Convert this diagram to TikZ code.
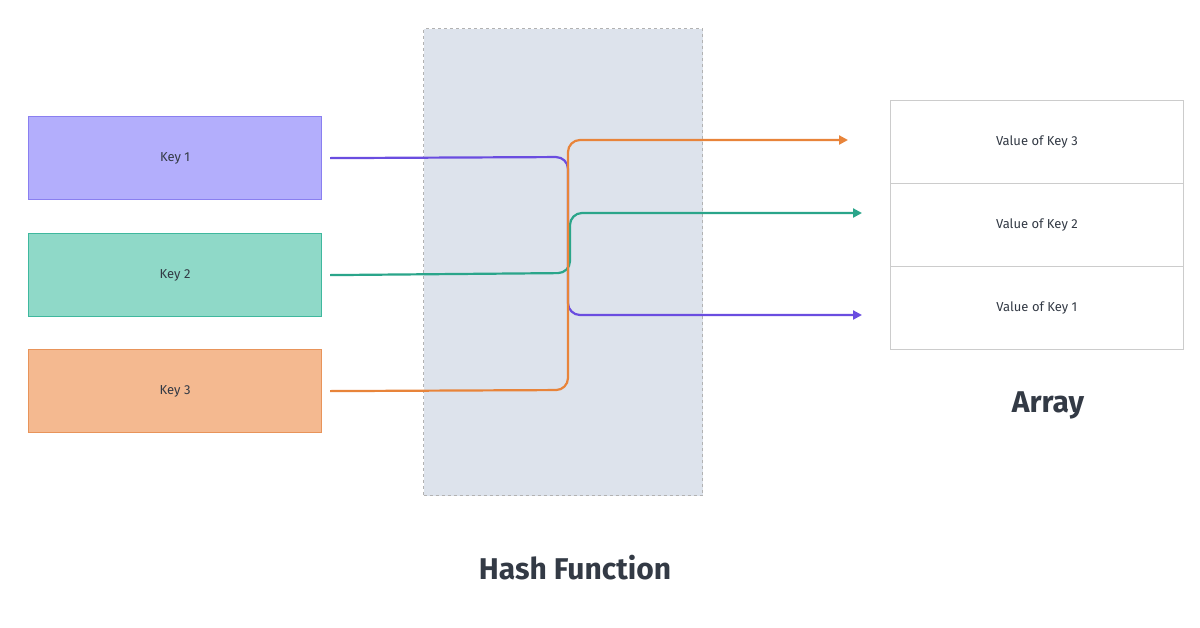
\documentclass[tikz,border=0pt]{standalone}
\usepackage{fontspec}
\setmainfont{Fira Sans}
\usetikzlibrary{arrows.meta}
\definecolor{txt}{HTML}{333A45}
\definecolor{hashbg}{HTML}{DDE3EC}
\definecolor{purp}{HTML}{6A4DE0}
\definecolor{grn}{HTML}{2AA58A}
\definecolor{org}{HTML}{E8843A}
\definecolor{k1f}{HTML}{B3AEFC}
\definecolor{k1d}{HTML}{8A7FF0}
\definecolor{k2f}{HTML}{8FD9C8}
\definecolor{k2d}{HTML}{3FB89E}
\definecolor{k3f}{HTML}{F4B990}
\definecolor{k3d}{HTML}{E8945A}
\begin{document}
\begin{tikzpicture}[x=1pt,y=-1pt,
  key/.style={draw, line width=1.2pt, minimum width=293pt, minimum height=83pt, anchor=north west, inner sep=0, font=\fontsize{13}{15}\selectfont, text=txt},
  cell/.style={draw=gray!40, line width=0.8pt, minimum width=293pt, minimum height=83pt, anchor=north west, inner sep=0, font=\fontsize{13}{15}\selectfont, text=txt},
  link/.style={line width=2.2pt, rounded corners=12pt, -{Triangle[length=9pt,width=9pt]}},
  title/.style={font=\bfseries\fontsize{30}{34}\selectfont, text=txt}]
\useasboundingbox (0,0) rectangle (1200,627);
\fill[white] (0,0) rectangle (1200,627);
\node[draw=gray!60, dashed, line width=1pt, fill=hashbg, minimum width=279pt, minimum height=467pt, anchor=north west, inner sep=0] (hash) at (423,28) {};
\node[key, fill=k1f, draw=k1d] (k1) at (28,116) {Key 1};
\node[key, fill=k2f, draw=k2d] (k2) at (28,233) {Key 2};
\node[key, fill=k3f, draw=k3d] (k3) at (28,349) {Key 3};
\node[cell] (a3) at (890,100) {Value of Key 3};
\node[cell] (a2) at (890,183) {Value of Key 2};
\node[cell] (a1) at (890,266) {Value of Key 1};
\coordinate (e3) at (848,140);
\coordinate (e2) at (862,213);
\coordinate (e1) at (862,315);
\draw[link, purp] ([xshift=8pt]k1.east) -- (568,157) -- (568,315) -- (e1);
\draw[link, grn] ([xshift=8pt]k2.east) -- (570,273) -- (570,213) -- (e2);
\draw[link, org] ([xshift=8pt]k3.east) -- (568,390) -- (568,140) -- (e3);
\node[title] (arr) at (1048,405) {Array};
\node[title] (hf) at (575,568) {Hash Function};
\end{tikzpicture}
\end{document}
